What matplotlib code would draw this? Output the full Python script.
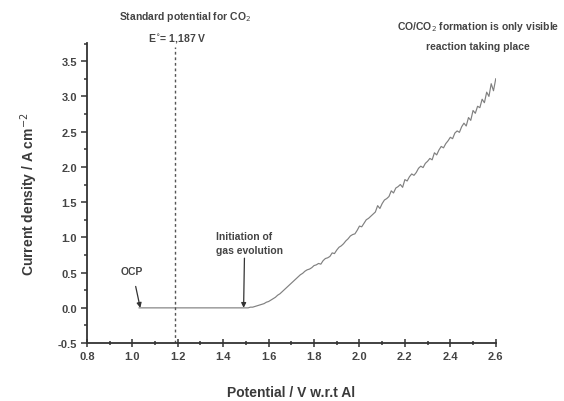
import matplotlib
matplotlib.use("Agg")
import matplotlib.pyplot as plt
from matplotlib.ticker import MultipleLocator

plt.rcParams['font.family'] = ['Liberation Sans', 'DejaVu Sans']

# Flat region (OCP to onset of gas evolution)
flat_x = [1.03, 1.10, 1.20, 1.30, 1.40, 1.50]
flat_y = [0.00, 0.00, 0.00, 0.00, 0.00, 0.00]

# Rising region
rise_x = [1.50 + 0.01 * i for i in range(111)]
rise_y = [0.00, 0.00, 0.01, 0.01, 0.02, 0.03, 0.04, 0.05, 0.06, 0.08,
          0.09, 0.11, 0.13, 0.15, 0.18, 0.20, 0.23, 0.26, 0.29, 0.32,
          0.35, 0.38, 0.41, 0.44, 0.47, 0.49, 0.52, 0.54, 0.55, 0.57,
          0.60, 0.61, 0.63, 0.62, 0.67, 0.70, 0.71, 0.73, 0.78, 0.77,
          0.82, 0.86, 0.88, 0.91, 0.95, 0.98, 1.02, 1.04, 1.05, 1.10,
          1.16, 1.15, 1.20, 1.25, 1.27, 1.30, 1.33, 1.36, 1.45, 1.41,
          1.48, 1.53, 1.55, 1.58, 1.66, 1.63, 1.70, 1.72, 1.75, 1.71,
          1.82, 1.80, 1.86, 1.90, 1.88, 1.92, 1.98, 2.01, 1.99, 2.05,
          2.08, 2.12, 2.10, 2.20, 2.17, 2.24, 2.29, 2.27, 2.33, 2.37,
          2.42, 2.40, 2.48, 2.51, 2.49, 2.57, 2.62, 2.58, 2.70, 2.66,
          2.80, 2.76, 2.86, 2.84, 2.96, 2.91, 3.06, 3.00, 3.18, 3.08,
          3.25]

x = flat_x + rise_x[1:]
y = flat_y + rise_y[1:]

std_potential = 1.187

fig = plt.figure(figsize=(5.64, 4.02), dpi=100)
ax = fig.add_axes([0.154, 0.144, 0.725, 0.747])

ax.plot(x, y, color='#808080', lw=0.85)
ax.axvline(std_potential, ymax=0.985, color='#555555', lw=1.0, linestyle=(0, (2, 2)))

ax.set_xlim(0.8, 2.6)
ax.set_ylim(-0.5, 3.76)
ax.xaxis.set_minor_locator(MultipleLocator(0.1))
ax.yaxis.set_minor_locator(MultipleLocator(0.25))
ax.set_xticks([0.8, 1.0, 1.2, 1.4, 1.6, 1.8, 2.0, 2.2, 2.4, 2.6])
ax.set_xticklabels(['0.8', '1.0', '1.2', '1.4', '1.6', '1.8', '2.0', '2.2', '2.4', '2.6'])
ax.set_yticks([-0.5, 0.0, 0.5, 1.0, 1.5, 2.0, 2.5, 3.0, 3.5])
ax.set_yticklabels(['-0.5', '0.0', '0.5', '1.0', '1.5', '2.0', '2.5', '3.0', '3.5'])

for s in ['top', 'right']:
    ax.spines[s].set_visible(False)
for s in ['left', 'bottom']:
    ax.spines[s].set_color('#333333')
    ax.spines[s].set_linewidth(1.3)
ax.tick_params(which='major', direction='out', length=4, width=1.1, colors='#333333', pad=3)
ax.tick_params(which='minor', direction='out', length=2, width=1.1, colors='#333333')
ax.tick_params(axis='x', which='major', direction='inout', length=6)
ax.tick_params(axis='x', which='minor', direction='inout', length=3)
for lab in ax.get_xticklabels() + ax.get_yticklabels():
    lab.set_fontsize(8)
    lab.set_fontweight('bold')
    lab.set_color('#444444')

ax.set_xlabel('Potential / V w.r.t Al', fontsize=10, fontweight='bold', color='#3a3a3a', labelpad=17)
ax.set_ylabel('Current density / A cm$^{-2}$', fontsize=10, fontweight='bold', color='#3a3a3a', labelpad=13)

tkw = dict(ha='center', va='center', fontsize=7.5, fontweight='bold', color='#444444')
fig.text(0.328, 0.958, 'Standard potential for CO$_2$', **tkw)
fig.text(0.314, 0.905, 'E$^{\\circ}$= 1,187 V', **tkw)
fig.text(0.848, 0.933, 'CO/CO$_2$ formation is only visible', **tkw)
fig.text(0.848, 0.883, 'reaction taking place', **tkw)

ax.annotate('OCP', xy=(1.035, 0.0), xytext=(1.0, 0.53), fontsize=7.5, fontweight='bold',
            color='#444444', ha='center', va='center',
            arrowprops=dict(arrowstyle='-|>', color='#333333', lw=0.9, mutation_scale=7,
                            shrinkA=6, shrinkB=0))
ax.annotate('Initiation of\ngas evolution', xy=(1.49, 0.0), xytext=(1.37, 0.92), fontsize=7.5,
            fontweight='bold', color='#444444', ha='left', va='center', linespacing=1.6,
            arrowprops=dict(arrowstyle='-|>', color='#333333', lw=0.9, mutation_scale=7,
                            shrinkA=0, shrinkB=0, relpos=(0.42, 0.0)))

fig.savefig('out.png', dpi=100)
